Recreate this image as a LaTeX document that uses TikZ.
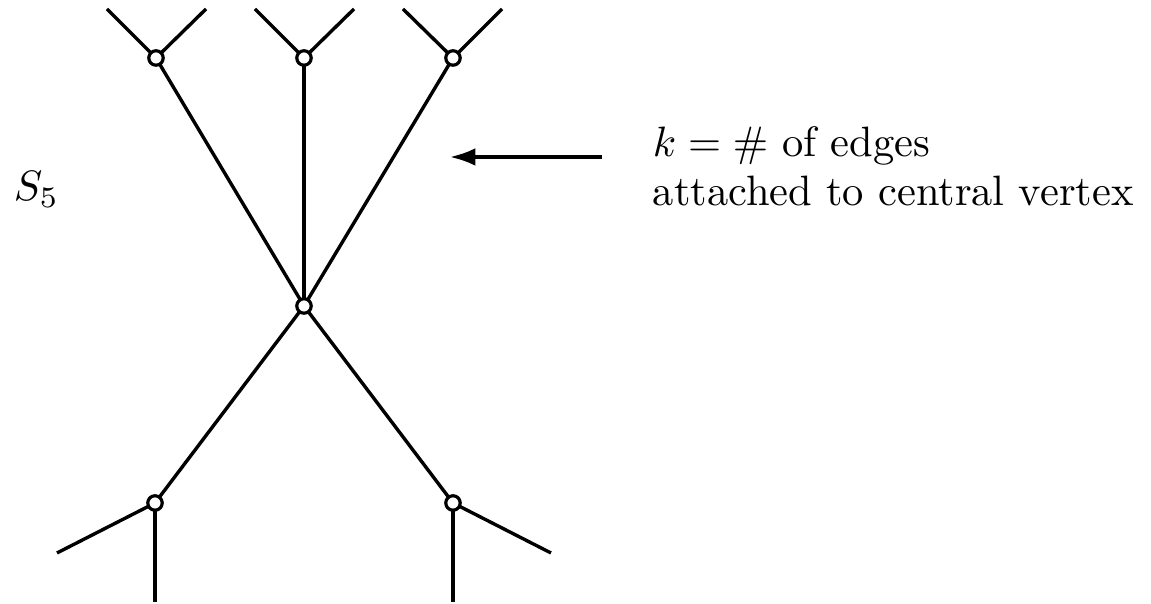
\documentclass[tikz,border=0pt]{standalone}
\usetikzlibrary{arrows.meta}
\begin{document}
\begin{tikzpicture}[x=0.2353pt,y=-0.2353pt,
  vtx/.style={circle,draw,fill=white,line width=0.75pt,inner sep=0pt,minimum size=3.4pt},
  edge/.style={line width=0.8pt},
  lbl/.style={anchor=base west,inner sep=0pt,font=\fontsize{10}{12}\selectfont}]
\useasboundingbox (0,0) rectangle (1151,604);
% leaf ends
\coordinate (l1) at (107,9);
\coordinate (l2) at (206,9);
\coordinate (l3) at (255,9);
\coordinate (l4) at (354,9);
\coordinate (l5) at (403,9);
\coordinate (l6) at (502,9);
\coordinate (l7) at (57,553);
\coordinate (l8) at (155,602);
\coordinate (l9) at (453,602);
\coordinate (l10) at (551,553);
% vertices positions
\coordinate (pc) at (304,306);
\coordinate (pa) at (156,58);
\coordinate (pb) at (304,58);
\coordinate (pd) at (453,58);
\coordinate (pe) at (155,503);
\coordinate (pf) at (453,503);
% edges
\draw[edge] (pc) -- (pa);
\draw[edge] (pc) -- (pb);
\draw[edge] (pc) -- (pd);
\draw[edge] (pc) -- (pe);
\draw[edge] (pc) -- (pf);
\draw[edge] (pa) -- (l1); \draw[edge] (pa) -- (l2);
\draw[edge] (pb) -- (l3); \draw[edge] (pb) -- (l4);
\draw[edge] (pd) -- (l5); \draw[edge] (pd) -- (l6);
\draw[edge] (pe) -- (l7); \draw[edge] (pe) -- (l8);
\draw[edge] (pf) -- (l9); \draw[edge] (pf) -- (l10);
% vertex circles
\node[vtx] (c) at (pc) {};
\node[vtx] (a) at (pa) {};
\node[vtx] (b) at (pb) {};
\node[vtx] (d) at (pd) {};
\node[vtx] (e) at (pe) {};
\node[vtx] (f) at (pf) {};
% arrow
\coordinate (as) at (602,157);
\coordinate (at) at (450,157);
\draw[edge,-{Latex[length=6pt,width=4.2pt]}] (as) -- (at);
% labels
\node[lbl] (t1) at (652,157) {$k=\#$ of edges};
\node[lbl] (t2) at (652,206) {attached to central vertex};
\node[lbl] (s) at (13,201) {$S_5$};
\end{tikzpicture}
\end{document}
